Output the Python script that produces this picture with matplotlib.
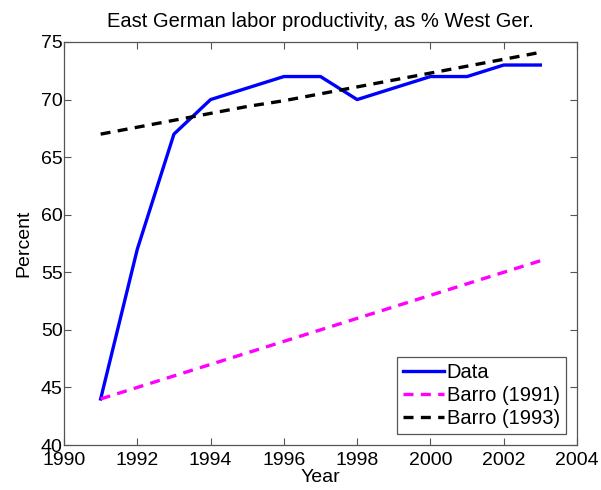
import numpy as np
import matplotlib
matplotlib.use("Agg")
import matplotlib.pyplot as plt

plt.rcParams['font.family'] = ['Liberation Sans', 'DejaVu Sans']

# data
years = [1991, 1992, 1993, 1994, 1995, 1996, 1997, 1998, 1999, 2000, 2001, 2002, 2003]
data = [44, 57, 67, 70, 71, 72, 72, 70, 71, 72, 72, 73, 73]
barro_1991 = [44, 45, 46, 47, 48, 49, 50, 51, 52, 53, 54, 55, 56]
barro_1993 = [67.0, 67.6, 68.2, 68.8, 69.4, 69.9, 70.5, 71.1, 71.7, 72.3, 72.9, 73.5, 74.1]

fig = plt.figure(figsize=(6.01, 4.90), dpi=100)
ax = fig.add_axes([64/601, 1 - 445/490, (577-64)/601, (445-42)/490])

ax.plot(years, data, color='#0000ff', lw=2.4, label='Data')
ax.plot(years, barro_1991, color='#ff00ff', lw=2.4, ls=(0, (3, 2.2)), label='Barro (1991)')
ax.plot(years, barro_1993, color='black', lw=2.4, ls=(0, (3, 2.2)), label='Barro (1993)')

ax.set_xlim(1990, 2004)
ax.set_ylim(40, 75)
ax.set_xticks(np.arange(1990, 2005, 2))
ax.set_yticks(np.arange(40, 76, 5))
ax.tick_params(direction='in', top=True, right=True, labelsize=14, length=5,
               color='#555555')
ax.tick_params(axis='x', pad=5)
ax.tick_params(axis='y', pad=1)
for s in ax.spines.values():
    s.set_color('#555555')
    s.set_linewidth(0.9)

ax.set_title('East German labor productivity, as % West Ger.', fontsize=14.5, pad=11)
ax.set_xlabel('Year', fontsize=14, labelpad=0)
ax.set_ylabel('Percent', fontsize=14, labelpad=6)

leg = ax.legend(loc='lower right', fontsize=14.5, fancybox=False, framealpha=1,
                edgecolor='#555555', handlelength=2.0, handletextpad=0.15,
                borderpad=0.3, labelspacing=0.2, borderaxespad=0.55)
leg.get_frame().set_linewidth(0.9)

fig.savefig('out.png', dpi=100)
